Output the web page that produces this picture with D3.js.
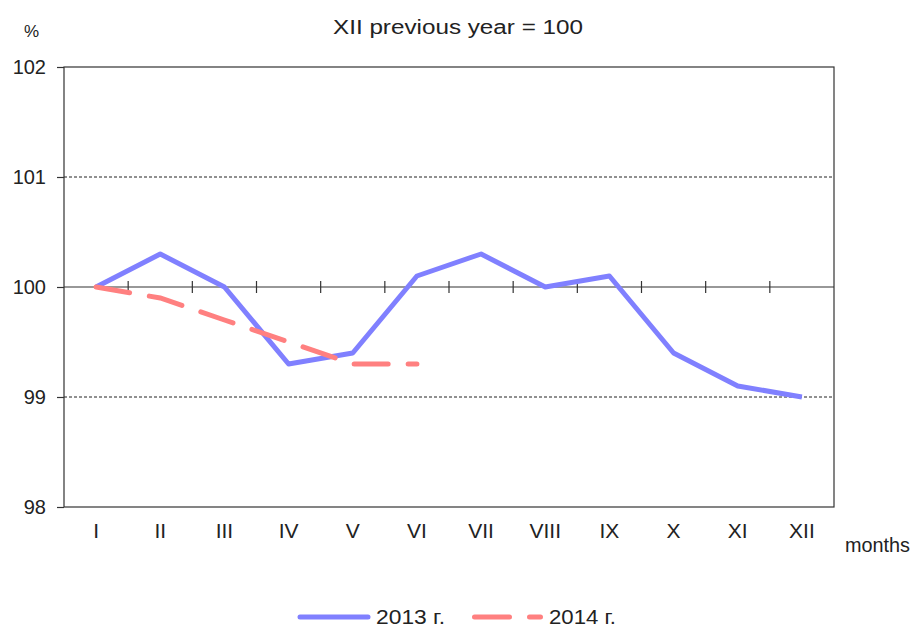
<!DOCTYPE html>
<html lang="en">
<head>
	<meta charset="utf-8">
	<title>XII previous year = 100</title>
	<script src="https://d3js.org/d3.v7.min.js"></script>
	<style>
		body { margin: 0; background: #fff; }
		text { font-family: "Liberation Sans", Arial, sans-serif; fill: #222; }
	</style>
</head>
<body>
	<div id="chart"></div>
	<script>
		// chart data
		var months = ["I","II","III","IV","V","VI","VII","VIII","IX","X","XI","XII"];
		var values2013 = [100, 100.3, 100.0, 99.3, 99.4, 100.1, 100.3, 100.0, 100.1, 99.4, 99.1, 99.0];
		var values2014 = [100, 99.9, 99.7, 99.5, 99.3, 99.3];
		var yTicks = [98, 99, 100, 101, 102];
		var seriesNames = ["2013 г.", "2014 г."];

		var width = 913;
		var height = 628;
		// note: "top" is taken by window.top, so plot edges get their own names
		var plotLeft = 64, plotRight = 834, plotTop = 67, plotBottom = 507;

		var svg = d3.select("#chart").append("svg")
					.attr("width", width)
					.attr("height", height);

		var x = d3.scaleBand().domain(months).range([plotLeft, plotRight]);
		var y = d3.scaleLinear().domain([98, 102]).range([plotBottom, plotTop]);

		// dashed grid lines
		svg.selectAll("line.grid")
			.data(yTicks.filter(function(d) { return d == 99 || d == 101; }))
			.enter().append("line")
			.attr("class", "grid")
			.attr("x1", plotLeft).attr("x2", plotRight)
			.attr("y1", function(d) { return y(d); })
			.attr("y2", function(d) { return y(d); })
			.attr("stroke", "#222")
			.attr("stroke-width", 1)
			.attr("stroke-dasharray", "3,2");

		// plot frame
		svg.append("rect")
			.attr("x", plotLeft).attr("y", plotTop)
			.attr("width", plotRight - plotLeft).attr("height", plotBottom - plotTop)
			.attr("fill", "none")
			.attr("stroke", "#333")
			.attr("stroke-width", 1.2);

		// left axis
		var yAxis = svg.append("g")
			.attr("transform", "translate(" + plotLeft + ",0)")
			.call(d3.axisLeft(y).tickValues(yTicks).tickSize(7).tickPadding(11).tickFormat(d3.format("d")));
		yAxis.select(".domain").remove();
		yAxis.selectAll("line").attr("stroke", "#333").attr("stroke-width", 1.2);
		yAxis.selectAll("text").style("font-size", "20px").style("font-family", "Liberation Sans, Arial, sans-serif").attr("fill", "#222");

		// the 100 base line with month ticks
		svg.append("line")
			.attr("x1", plotLeft).attr("x2", plotRight)
			.attr("y1", y(100)).attr("y2", y(100))
			.attr("stroke", "#333").attr("stroke-width", 1.2);
		svg.selectAll("line.mtick")
			.data(months.slice(1))
			.enter().append("line")
			.attr("class", "mtick")
			.attr("x1", function(d) { return x(d); })
			.attr("x2", function(d) { return x(d); })
			.attr("y1", y(100) - 6).attr("y2", y(100) + 6)
			.attr("stroke", "#333").attr("stroke-width", 1.2);

		// month labels
		svg.selectAll("text.month")
			.data(months)
			.enter().append("text")
			.attr("class", "month")
			.attr("x", function(d) { return x(d) + x.bandwidth() / 2; })
			.attr("y", 538)
			.attr("text-anchor", "middle")
			.style("font-size", "21px")
			.text(function(d) { return d; });

		svg.append("text")
			.attr("x", 845).attr("y", 552)
			.attr("textLength", 65)
			.attr("lengthAdjust", "spacingAndGlyphs")
			.style("font-size", "20px")
			.text("months");

		svg.append("text")
			.attr("x", 24).attr("y", 37)
			.style("font-size", "17px")
			.text("%");

		svg.append("text")
			.attr("x", 333).attr("y", 34)
			.attr("textLength", 250)
			.attr("lengthAdjust", "spacingAndGlyphs")
			.style("font-size", "20px")
			.text("XII previous year = 100");

		// lines
		var line = d3.line()
			.x(function(d, i) { return x(months[i]) + x.bandwidth() / 2; })
			.y(function(d) { return y(d); });

		svg.append("path")
			.datum(values2013)
			.attr("fill", "none")
			.attr("stroke", "#8080ff")
			.attr("stroke-width", 5)
			.attr("stroke-linejoin", "round")
			.attr("d", line);

		svg.append("path")
			.datum(values2014)
			.attr("fill", "none")
			.attr("stroke", "#ff8080")
			.attr("stroke-width", 5)
			.attr("stroke-linecap", "round")
			.attr("stroke-dasharray", "34,20")
			.attr("d", line);

		// legend
		var legendY = 617;
		svg.append("line")
			.attr("x1", 300).attr("x2", 368)
			.attr("y1", legendY).attr("y2", legendY)
			.attr("stroke", "#8080ff").attr("stroke-width", 5).attr("stroke-linecap", "round");
		svg.append("text")
			.attr("x", 376).attr("y", legendY + 7)
			.attr("textLength", 69)
			.attr("lengthAdjust", "spacingAndGlyphs")
			.style("font-size", "20px")
			.text(seriesNames[0]);
		svg.append("line")
			.attr("x1", 474.5).attr("x2", 540.5)
			.attr("y1", legendY).attr("y2", legendY)
			.attr("stroke", "#ff8080").attr("stroke-width", 5).attr("stroke-linecap", "round")
			.attr("stroke-dasharray", "35,20");
		svg.append("text")
			.attr("x", 549).attr("y", legendY + 7)
			.attr("textLength", 67)
			.attr("lengthAdjust", "spacingAndGlyphs")
			.style("font-size", "20px")
			.text(seriesNames[1]);
	</script>
</body>
</html>
